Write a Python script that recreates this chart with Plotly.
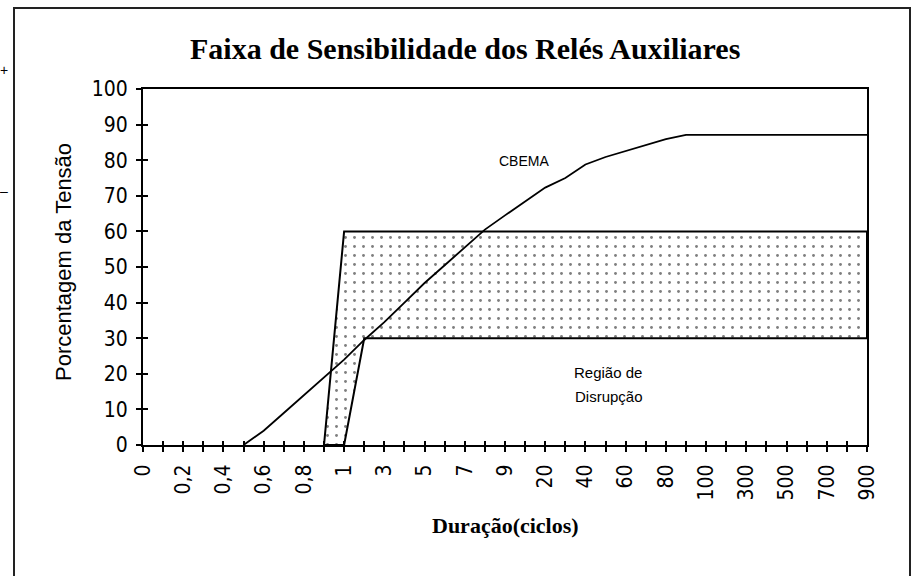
import plotly.graph_objects as go

# Event duration categories (cycles), plotted evenly spaced as on a category axis
durations = [0, 0.1, 0.2, 0.3, 0.4, 0.5, 0.6, 0.7, 0.8, 0.9,
             1, 2, 3, 4, 5, 6, 7, 8, 9,
             10, 20, 30, 40, 50, 60, 70, 80, 90,
             100, 200, 300, 400, 500, 600, 700, 800, 900]

# CBEMA curve (% of nominal voltage)
cbema = [None, None, None, None, None,
         0, 4, 9, 14, 19,
         24, 29.5, 34.5, 40, 45.5, 50.5, 55.5, 60.5, 64.5,
         68.5, 72.3, 75, 78.8, 80.9, 82.6, 84.2, 85.9, 87.1,
         87.1, 87.1, 87.1, 87.1, 87.1, 87.1, 87.1, 87.1, 87.1]

# Auxiliary-relay sensitivity band: upper and lower limits (% voltage)
band_upper = [None] * 9 + [0] + [60] * 27
band_lower = [None] * 10 + [0] + [30] * 26

y_ticks = [0, 10, 20, 30, 40, 50, 60, 70, 80, 90, 100]


def fmt(v):
    s = ("%g" % v)
    return s.replace(".", ",")


idx = list(range(len(durations)))
tick_text = [fmt(d) if i % 2 == 0 else "" for i, d in enumerate(durations)]

# polygon of the band: upper limit forward, lower limit backward
poly_x, poly_y = [], []
for i, v in zip(idx, band_upper):
    if v is not None:
        poly_x.append(i)
        poly_y.append(v)
for i, v in reversed(list(zip(idx, band_lower))):
    if v is not None:
        poly_x.append(i)
        poly_y.append(v)
poly_x.append(poly_x[0])
poly_y.append(poly_y[0])

W, H = 913, 576
L, R, T, B = 143, 867, 89, 445


def px(x):
    return (x - L) / (R - L)


def py(y):
    return (B - y) / (B - T)


tick_font = dict(family="Liberation Sans Narrow, Arial Narrow, DejaVu Sans Condensed, Arial",
                 size=21, color="black")

fig = go.Figure()

fig.add_trace(go.Scatter(
    x=poly_x, y=poly_y, mode="lines", fill="toself",
    line=dict(color="black", width=2),
    fillcolor="white",
    fillpattern=dict(shape=".", fgcolor="black", bgcolor="white",
                     size=9, solidity=0.08),
    hoverinfo="skip", showlegend=False))

fig.add_trace(go.Scatter(
    x=idx, y=cbema, mode="lines",
    line=dict(color="black", width=1.8),
    connectgaps=False, showlegend=False))

# invisible trace that anchors the overlay axes used for inner tick halves
fig.add_trace(go.Scatter(x=[0], y=[0], xaxis="x2", yaxis="y2", mode="markers",
                         marker=dict(opacity=0), showlegend=False, hoverinfo="skip"))

fig.update_layout(
    width=W, height=H, autosize=False,
    margin=dict(l=L, r=W - R, t=T, b=H - B, pad=0),
    paper_bgcolor="white", plot_bgcolor="white",
    xaxis=dict(range=[0, 36], tickmode="array", tickvals=idx, ticktext=tick_text,
               tickangle=-90, ticks="outside", ticklen=5, tickwidth=2, tickcolor="black",
               showline=True, linecolor="black", linewidth=2, mirror=True,
               showgrid=False, zeroline=False, tickfont=tick_font,
               ticklabelstandoff=4),
    yaxis=dict(range=[0, 100], tickmode="array", tickvals=y_ticks,
               ticks="outside", ticklen=5, tickwidth=2, tickcolor="black",
               showline=True, linecolor="black", linewidth=2, mirror=True,
               showgrid=False, zeroline=False, tickfont=tick_font,
               ticklabelstandoff=4),
    xaxis2=dict(range=[0, 36], overlaying="x", anchor="y", side="bottom",
                tickmode="array", tickvals=idx, ticks="inside", ticklen=4,
                tickwidth=2, tickcolor="black", showticklabels=False,
                showline=False, showgrid=False, zeroline=False),
    yaxis2=dict(range=[0, 100], overlaying="y", anchor="x", side="left",
                tickmode="array", tickvals=y_ticks, ticks="inside", ticklen=5,
                tickwidth=2, tickcolor="black", showticklabels=False,
                showline=False, showgrid=False, zeroline=False),
)

serif_bold = "Liberation Serif, Times New Roman, serif"
sans = "Liberation Sans, Arial, sans-serif"

annotations = [
    dict(text="<b>Faixa de Sensibilidade dos Relés Auxiliares</b>",
         x=px(465), y=py(48), font=dict(family=serif_bold, size=30, color="black")),
    dict(text="<b>Duração(ciclos)</b>",
         x=px(505), y=py(525), font=dict(family=serif_bold, size=22, color="black")),
    dict(text="Porcentagem da Tensão", textangle=-90,
         x=px(63), y=py(262), font=dict(family=sans, size=22, color="black")),
    dict(text="CBEMA", x=px(524), y=py(161),
         font=dict(family=sans, size=14, color="black")),
    dict(text="Região de", x=px(572), y=py(372), xanchor="left",
         font=dict(family=sans, size=15, color="black")),
    dict(text="Disrupção", x=px(573), y=py(396), xanchor="left",
         font=dict(family=sans, size=15, color="black")),
    dict(text="+", x=px(4), y=py(70), font=dict(family=sans, size=14, color="black")),
    dict(text="–", x=px(4), y=py(191), font=dict(family=sans, size=14, color="black")),
]
for a in annotations:
    a.setdefault("xanchor", "center")
    a.update(xref="paper", yref="paper", yanchor="middle", showarrow=False)
fig.update_layout(annotations=annotations)

# outer frame around the whole chart
fig.add_shape(type="rect", xref="paper", yref="paper",
              x0=px(14), x1=px(910), y0=py(600), y1=py(8),
              line=dict(color="#222", width=2), fillcolor="rgba(0,0,0,0)", layer="below")

fig.write_html("out.html")
